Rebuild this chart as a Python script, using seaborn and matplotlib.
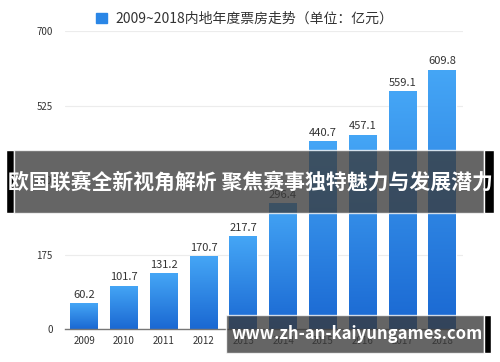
import numpy as np
import pandas as pd
import matplotlib
matplotlib.use("Agg")
import matplotlib.pyplot as plt
from matplotlib.patches import Rectangle, Patch
from matplotlib.colors import LinearSegmentedColormap
import seaborn as sns

# dados
anos = ["2009", "2010", "2011", "2012", "2013", "2014", "2015", "2016", "2017", "2018"]
bilheteira = [60.2, 101.7, 131.2, 170.7, 217.7, 296.4, 440.7, 457.1, 559.1, 609.8]
yticks = [0, 175, 350, 525, 700]
legenda = "2009~2018内地年度票房走势（单位：亿元）"
titulo = "欧国联赛全新视角解析 聚焦赛事独特魅力与发展潜力"
site = "www.zh-an-kaiyungames.com"

df = pd.DataFrame({"ano": anos, "valor": bilheteira})

sns.set_theme(style="white")
plt.rcParams["font.family"] = ["Noto Sans CJK SC", "DejaVu Sans"]

fig = plt.figure(figsize=(5, 3.62), dpi=100)
ax = fig.add_axes([0.13, 0.091, 0.796, 0.823])

sns.barplot(data=df, x="ano", y="valor", color="#2a86e6", width=0.7,
            saturation=1, ax=ax)

# gradiente nas barras
cmap = LinearSegmentedColormap.from_list("azul", ["#1a68d2", "#45a6f6"])
grad = np.linspace(0, 1, 256).reshape(-1, 1)
for p in ax.patches:
    x0, y0 = p.get_x(), p.get_y()
    w, h = p.get_width(), p.get_height()
    im = ax.imshow(grad, cmap=cmap, aspect="auto", origin="lower",
                   extent=[x0, x0 + w, y0, y0 + h], zorder=p.get_zorder())
    im.set_clip_path(p)

ax.set_xlim(-0.48, 9.52)
ax.set_ylim(0, 700)
ax.set_yticks(yticks)
ax.set_yticklabels([str(t) for t in yticks])
ax.grid(axis="y", color="#ececec", linewidth=0.8)
ax.set_axisbelow(True)
for s in ["top", "right", "left"]:
    ax.spines[s].set_visible(False)
ax.spines["bottom"].set_color("#777777")
ax.spines["bottom"].set_linewidth(1)
ax.tick_params(axis="both", length=0, labelsize=7, colors="#333333")
ax.tick_params(axis="y", pad=9)
ax.tick_params(axis="x", pad=5)
ax.set_xlabel("")
ax.set_ylabel("")

for i, v in enumerate(bilheteira):
    ax.text(i, v + 8, f"{v:.1f}", ha="center", va="bottom", fontsize=8,
            color="#333333")

# legenda
fig.legend(handles=[Patch(color="#2a86e6")], labels=[legenda],
           loc="center", bbox_to_anchor=(0.49, 0.948), frameon=False,
           fontsize=10, handlelength=0.8, handleheight=0.8, handletextpad=0.6,
           labelcolor="#333333")

# faixas sobrepostas
def faixa(x0, y0, x1, y1, cor, alpha):
    fig.patches.append(Rectangle((x0 / 500, 1 - y1 / 362), (x1 - x0) / 500,
                                 (y1 - y0) / 362, transform=fig.transFigure,
                                 facecolor=cor, alpha=alpha, zorder=10))

faixa(6, 150, 14, 213, "black", 1)
faixa(14, 150, 484, 213, "#3a3a3a", 0.78)
faixa(484, 150, 494, 213, "black", 1)
fig.text(250 / 500, 1 - 182 / 362, titulo, ha="center", va="center",
         fontsize=15, fontweight="bold", color="white", zorder=11)

faixa(226, 315, 484, 353, "#3a3a3a", 0.78)
faixa(484, 315, 491, 353, "black", 1)
fig.text(357 / 500, 1 - 334 / 362, site, ha="center", va="center",
         fontsize=12, fontweight="bold", color="white", zorder=11)

fig.savefig("out.png", dpi=100)
